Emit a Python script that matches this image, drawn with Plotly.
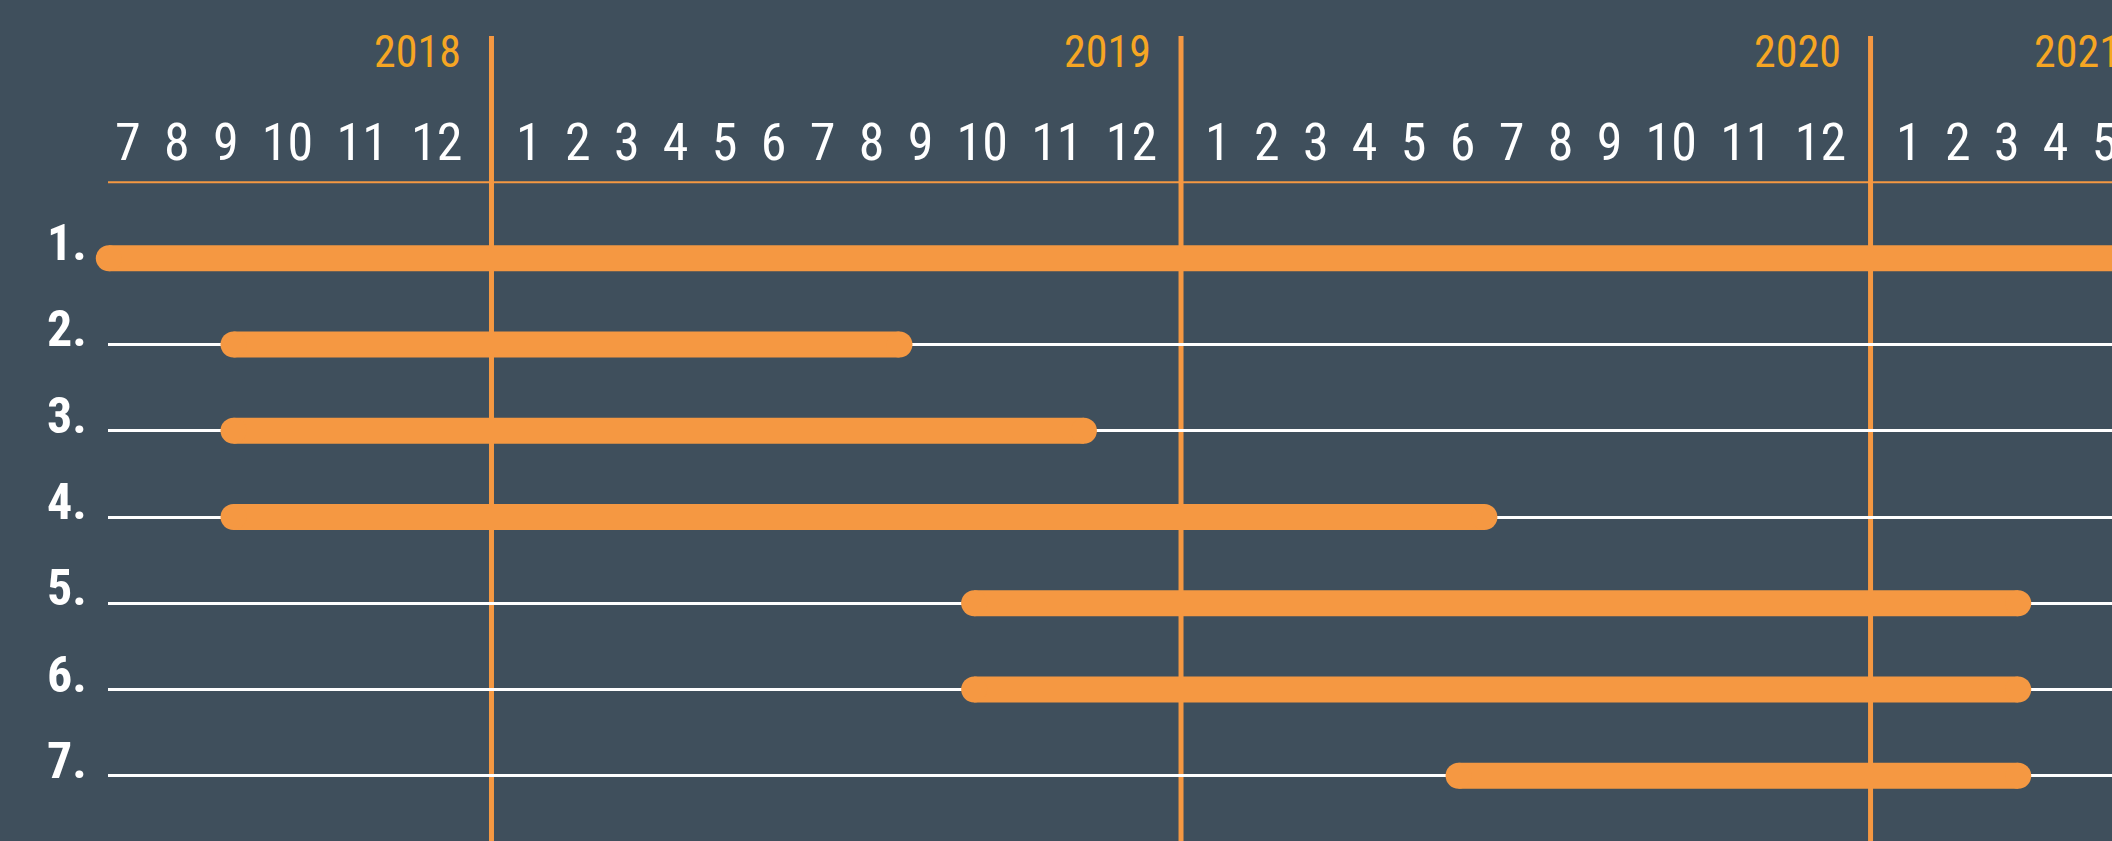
import plotly.graph_objects as go

# ---------------- data ----------------
rows = ["1.", "2.", "3.", "4.", "5.", "6.", "7."]
# bar start / end, in months counted from 1 Jan 2018 (12 = 1 Jan 2019)
bar_start = [5.34, 7.51, 7.51, 7.51, 20.40, 20.40, 28.83]
bar_end = [41.0, 19.10, 22.31, 29.28, 38.57, 38.57, 38.57]

year_lines = [12, 24, 36]            # 1 Jan 2019, 1 Jan 2020, 1 Jan 2021
year_labels = ["2018", "2019", "2020", "2021"]

months_2018 = [7, 8, 9, 10, 11, 12]
months_2019 = [1, 2, 3, 4, 5, 6, 7, 8, 9, 10, 11, 12]
months_2020 = [1, 2, 3, 4, 5, 6, 7, 8, 9, 10, 11, 12]
months_2021 = [1, 2, 3, 4, 5]

x_range = [5.326, 40.202]

# ---------------- style ----------------
BG = "#3F4F5C"
ORANGE = "#F59842"
YEAR_COL = "#F6A623"
WHITE = "#FFFFFF"
FONT = "Roboto Condensed, Roboto, sans-serif"
W, H = 2112, 841

fig = go.Figure()

row_pos = list(range(1, len(rows) + 1))
for r, s, e in zip(row_pos, bar_start, bar_end):
    fig.add_trace(go.Scatter(
        x=[s, e], y=[r, r], mode="lines+markers",
        line=dict(color=ORANGE, width=26),
        marker=dict(color=ORANGE, size=26, line=dict(width=0)),
        cliponaxis=False,
        hoverinfo="skip", showlegend=False,
    ))

annotations = []
# row labels
for r, lab in zip(row_pos, rows):
    annotations.append(dict(
        text=lab, xref="paper", x=0, xanchor="left", xshift=-63,
        yref="y", y=r, yanchor="middle", yshift=15,
        showarrow=False, font=dict(family=FONT, size=50, color=WHITE, weight="bold"),
    ))

MONTH_Y = 1 - 142 / H
YEAR_Y = 1 - 52 / H
SEP = "\u2002"

def block(months):
    return SEP.join(str(m) for m in months)

month_font = dict(family=FONT, size=52, color=WHITE)
annotations.append(dict(text=block(months_2018), x=year_lines[0], xanchor="right", xshift=-27,
                        yref="paper", y=MONTH_Y, yanchor="middle", showarrow=False, font=month_font))
annotations.append(dict(text=block(months_2019), x=(year_lines[0] + year_lines[1]) / 2, xanchor="center",
                        yref="paper", y=MONTH_Y, yanchor="middle", showarrow=False, font=month_font))
annotations.append(dict(text=block(months_2020), x=(year_lines[1] + year_lines[2]) / 2, xanchor="center",
                        yref="paper", y=MONTH_Y, yanchor="middle", showarrow=False, font=month_font))
annotations.append(dict(text=block(months_2021), x=year_lines[2], xanchor="left", xshift=23,
                        yref="paper", y=MONTH_Y, yanchor="middle", showarrow=False, font=month_font))

year_font = dict(family=FONT, size=44, color=YEAR_COL)
for xl, lab in zip(year_lines, year_labels[:3]):
    annotations.append(dict(text=lab, x=xl, xanchor="right", xshift=-28,
                            yref="paper", y=YEAR_Y, yanchor="middle", showarrow=False, font=year_font))
annotations.append(dict(text=year_labels[3], xref="paper", x=1, xanchor="left", xshift=-80,
                        yref="paper", y=YEAR_Y, yanchor="middle", showarrow=False, font=year_font))

shapes = []
for xl in year_lines:
    shapes.append(dict(type="line", xref="x", x0=xl, x1=xl, yref="paper", y0=0, y1=1 - 36 / H,
                       line=dict(color=ORANGE, width=5), layer="below"))
shapes.append(dict(type="line", xref="paper", x0=0, x1=1, yref="paper", y0=1 - 182.3 / H, y1=1 - 182.3 / H,
                   line=dict(color=ORANGE, width=2), layer="below"))

y_top = 4 - 517 / 86.26
y_bot = 4 + (H - 517) / 86.26

fig.update_layout(
    width=W, height=H,
    margin=dict(l=108, r=0, t=0, b=0),
    paper_bgcolor=BG, plot_bgcolor=BG,
    xaxis=dict(range=x_range, showgrid=False, zeroline=False, showticklabels=False,
               ticks="", showline=False, fixedrange=True),
    yaxis=dict(range=[y_bot, y_top], tickvals=row_pos, showticklabels=False, ticks="",
               showgrid=True, gridcolor=WHITE, gridwidth=2.5, zeroline=False, showline=False,
               fixedrange=True),
    annotations=annotations,
    shapes=shapes,
    showlegend=False,
)

fig.write_html(
    "out.html",
    config={"displayModeBar": False},
    post_script="document.body.style.margin='0';document.body.style.overflow='hidden';",
)
